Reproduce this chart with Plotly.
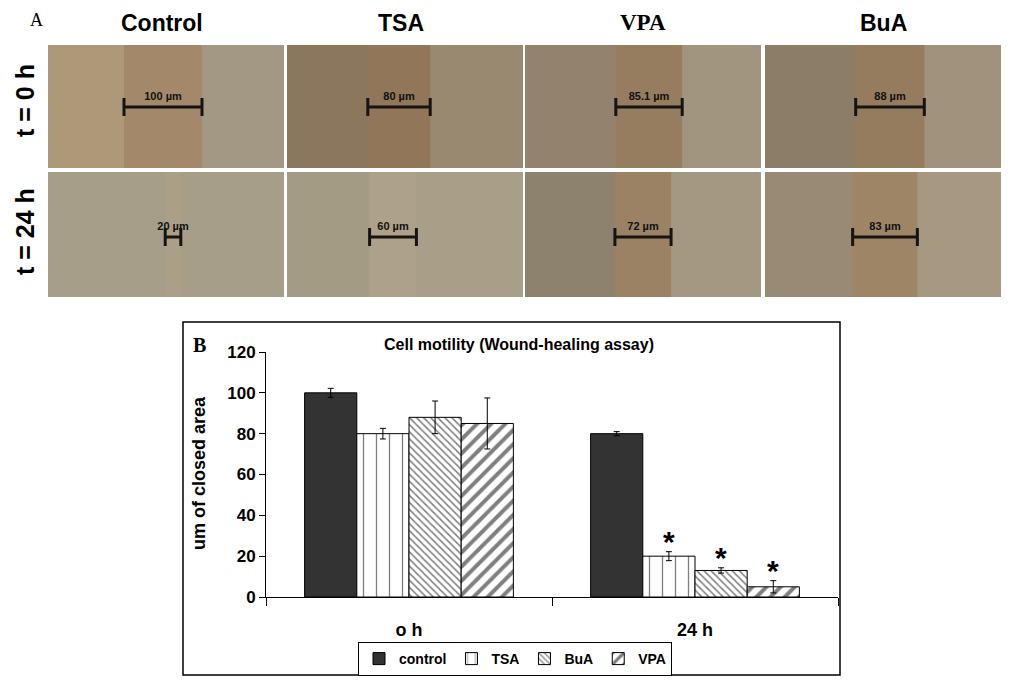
import plotly.graph_objects as go

W, H = 1024, 683

# ---------------- panel B data ----------------
times = ["o h", "24 h"]
groups = ["control", "TSA", "BuA", "VPA"]
closed_control = [100, 80]
closed_tsa = [80, 20]
closed_bua = [88, 13]
closed_vpa = [85, 5]
err_control = [2.2, 1.0]
err_tsa = [2.6, 2.2]
err_bua = [8.0, 1.3]
err_vpa = [12.5, 3.0]
signif_tsa = [False, True]
signif_bua = [False, True]
signif_vpa = [False, True]

# ---------------- panel A data ----------------
treatments = ["Control", "TSA", "VPA", "BuA"]
row_labels = ["t = 0 h", "t = 24 h"]
gap_0h = [100, 80, 85.1, 88]    # µm, wound width at t = 0 h
gap_24h = [20, 60, 72, 83]      # µm, wound width at t = 24 h


def px(x):
    return x / W


def py(y):
    return 1 - y / H


FONT = "Liberation Sans"
SERIF = "Liberation Serif"

fig = go.Figure()

# ---------- panel A: wound images drawn as tiles ----------
UM_PX = 0.78                      # pixels per µm in the photographs
A_LEFT, A_RIGHT = 48, 1001
A_TOP, A_BOTTOM = 45, 297
tile_left_px = [48, 287, 525, 765]
tile_w_px = 236
# rows, y measured upward in pixels from the bottom of panel A
row_base = [129, 0]
row_h = [123, 125]
bar_y = [190, 60]
wound_center_px = [[163, 399, 649, 890], [173, 393, 643, 885]]
tile_colors = [
    [["#ad9878", "#a3896a", "#a29883"], ["#8a775d", "#917659", "#998970"],
     ["#93836e", "#977d60", "#a1957f"], ["#8c7d67", "#967c5e", "#a1927e"]],
    [["#a69e88", "#aba087", "#a79e89"], ["#a49b85", "#ada189", "#a99e88"],
     ["#8c826e", "#9b8264", "#a49883"], ["#988a74", "#9d8566", "#a69881"]],
]
gaps = [gap_0h, gap_24h]

seg_x, seg_w, seg_base, seg_h, seg_col = [], [], [], [], []
sb_x, sb_y, lab_x, lab_y, lab_t = [], [], [], [], []
for r in range(2):
    for c in range(4):
        left = (tile_left_px[c] - A_LEFT) / UM_PX
        right = left + tile_w_px / UM_PX
        centre = (wound_center_px[r][c] - A_LEFT) / UM_PX
        g = gaps[r][c]
        wl, wr = centre - g / 2, centre + g / 2
        # whole tile, then right-hand monolayer, then the wound on top
        for (a, b), col in zip([(left, right), (centre, right), (wl, wr)],
                               [tile_colors[r][c][0], tile_colors[r][c][2],
                                tile_colors[r][c][1]]):
            seg_x.append(a)
            seg_w.append(b - a)
            seg_base.append(row_base[r])
            seg_h.append(row_h[r])
            seg_col.append(col)
        y0 = bar_y[r]
        sb_x += [wl, wr, None, wl, wl, None, wr, wr, None]
        sb_y += [y0, y0, None, y0 - 9, y0 + 9, None, y0 - 9, y0 + 9, None]
        lab_x.append(centre)
        lab_y.append(y0 + 4)
        lab_t.append(f"{g:g} µm")

fig.add_trace(go.Bar(
    x=seg_x, y=seg_h, base=seg_base, width=seg_w, offset=0,
    marker=dict(color=seg_col, line=dict(width=0)),
    xaxis="x2", yaxis="y2", showlegend=False, hoverinfo="skip"))
fig.add_trace(go.Scatter(
    x=sb_x, y=sb_y, mode="lines", line=dict(color="#161412", width=3),
    xaxis="x2", yaxis="y2", showlegend=False, hoverinfo="skip"))
fig.add_trace(go.Scatter(
    x=lab_x, y=lab_y, mode="text", text=lab_t, textposition="top center",
    textfont=dict(family=FONT, size=11, color="#111", weight="bold"),
    xaxis="x2", yaxis="y2", showlegend=False, hoverinfo="skip"))

# ---------- panel B: bar chart ----------
series = {
    "control": (closed_control, err_control, None),
    "TSA": (closed_tsa, err_tsa, signif_tsa),
    "BuA": (closed_bua, err_bua, signif_bua),
    "VPA": (closed_vpa, err_vpa, signif_vpa),
}
styles = {
    "control": dict(color="#333333", pattern=dict(shape="")),
    "TSA": dict(color="white", pattern=dict(shape="|", fgcolor="black", bgcolor="white", size=13, solidity=0.1)),
    "BuA": dict(color="white", pattern=dict(shape="\\", fgcolor="black", bgcolor="white", size=5, solidity=0.3)),
    "VPA": dict(color="white", pattern=dict(shape="/", fgcolor="black", bgcolor="white", size=10, solidity=0.4)),
}
for name in groups:
    vals, errs, _ = series[name]
    st = styles[name]
    fig.add_trace(go.Bar(
        name=name, x=times, y=vals,
        error_y=dict(type="data", array=errs, color="black", thickness=1, width=3),
        marker=dict(color=st["color"], line=dict(color="black", width=1),
                    pattern=st["pattern"]),
        xaxis="x", yaxis="y"))

B_X0, B_X1 = 266, 838
B_Y0, B_Y120 = 597, 352
BARGAP = 0.27
bar_px = (B_X1 - B_X0) / len(times) * (1 - BARGAP) / len(groups)

annotations = []
for i, name in enumerate(groups):
    vals, errs, sig = series[name]
    if sig is None:
        continue
    for j, t in enumerate(times):
        if sig[j]:
            annotations.append(dict(
                x=t, y=vals[j] + errs[j], xref="x", yref="y", text="*",
                showarrow=False, xanchor="center", yanchor="bottom",
                xshift=(i - 1.5) * bar_px, yshift=-8,
                font=dict(family=FONT, size=30, color="black", weight="bold")))


def label(text, x, y, size, family=FONT, weight="bold", angle=0):
    annotations.append(dict(x=px(x), y=py(y), xref="paper", yref="paper",
                            text=text, showarrow=False, textangle=angle,
                            xanchor="center", yanchor="middle",
                            font=dict(family=family, size=size, color="black",
                                      weight=weight)))


label("Cell motility (Wound-healing assay)", 519, 344, 16)
label("um of closed area", 199, 473, 18, angle=-90)
label("B", 199, 345, 20, family=SERIF)
label("A", 36, 20, 18, family=SERIF, weight="normal")
for t, x, f in zip(treatments, [162, 401, 643, 883], [FONT, FONT, SERIF, FONT]):
    label(t, x, 23, 23, family=f)
for t, y in zip(row_labels, [101, 232]):
    label(t, 25, y, 25, angle=-90)

fig.update_layout(
    width=W, height=H,
    margin=dict(l=0, r=0, t=0, b=0, autoexpand=False),
    paper_bgcolor="white", plot_bgcolor="rgba(0,0,0,0)",
    barmode="group", bargap=BARGAP, bargroupgap=0,
    showlegend=True,
    legend=dict(orientation="h", x=px(515), xanchor="center", y=py(642), yanchor="top",
                bordercolor="black", borderwidth=1, bgcolor="white",
                font=dict(family=FONT, size=14, color="black", weight="bold"),
                itemwidth=30, tracegroupgap=0),
    xaxis=dict(domain=[px(B_X0), px(B_X1)], type="category", showline=True,
               linecolor="black", linewidth=1, ticks="outside", tickson="boundaries",
               ticklen=8, tickcolor="black", showgrid=False, zeroline=False,
               ticklabelstandoff=16, automargin=False,
               tickfont=dict(family=FONT, size=18, color="black", weight="bold")),
    yaxis=dict(domain=[py(B_Y0), py(B_Y120)], range=[0, 120], dtick=20,
               showline=True, linecolor="black", linewidth=1, ticks="outside",
               ticklen=6, tickcolor="black", showgrid=False, zeroline=False,
               automargin=False,
               tickfont=dict(family=FONT, size=17, color="black", weight="bold")),
    xaxis2=dict(domain=[px(A_LEFT), px(A_RIGHT)], range=[0, (A_RIGHT - A_LEFT) / UM_PX],
                visible=False, fixedrange=True),
    yaxis2=dict(domain=[py(A_BOTTOM), py(A_TOP)], range=[0, A_BOTTOM - A_TOP],
                visible=False, fixedrange=True),
    shapes=[dict(type="rect", xref="paper", yref="paper",
                 x0=px(183), x1=px(840), y0=py(675), y1=py(322),
                 line=dict(color="black", width=1.5))],
    annotations=annotations,
)

# the page's default body margin would shift the 1024x683 figure
fig.write_html("out.html", config={"displayModeBar": False},
               post_script="document.body.style.margin='0';")
